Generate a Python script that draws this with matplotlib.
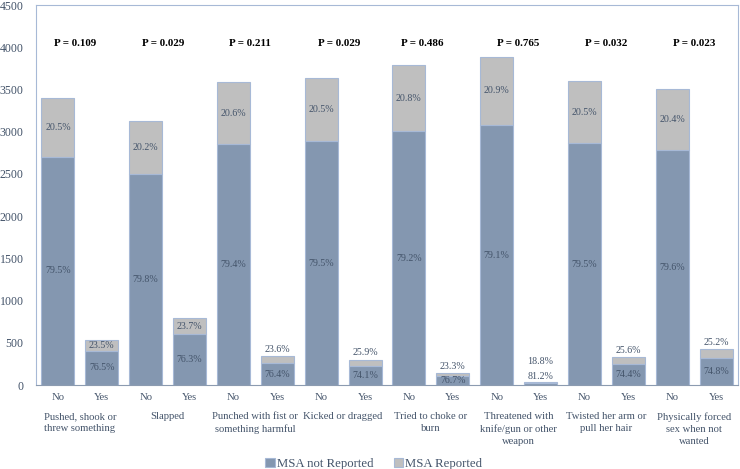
import matplotlib.pyplot as plt
import numpy as np

plt.rcParams['font.family'] = ['Liberation Serif', 'DejaVu Serif']

categories = ["Pushed, shook or\nthrew something", "Slapped",
              "Punched with fist or\nsomething harmful", "Kicked or dragged",
              "Tried to choke or\nburn", "Threatened with\nknife/gun or other\nweapon",
              "Twisted her arm or\npull her hair", "Physically forced\nsex when not\nwanted"]
p_values = ["P = 0.109", "P = 0.029", "P = 0.211", "P = 0.029",
            "P = 0.486", "P = 0.765", "P = 0.032", "P = 0.023"]
answers = ["No", "Yes"] * 8

# counts per bar (No, Yes for each category)
not_reported = [2703, 405, 2498, 603, 2850, 260, 2886, 222,
                3002, 107, 3077, 28, 2862, 246, 2786, 318]
reported = [697, 125, 632, 187, 740, 80, 744, 78,
            788, 33, 813, 7, 738, 84, 714, 107]
pct_not = ["79.5%", "76.5%", "79.8%", "76.3%", "79.4%", "76.4%", "79.5%", "74.1%",
           "79.2%", "76.7%", "79.1%", "81.2%", "79.5%", "74.4%", "79.6%", "74.8%"]
pct_rep = ["20.5%", "23.5%", "20.2%", "23.7%", "20.6%", "23.6%", "20.5%", "25.9%",
           "20.8%", "23.3%", "20.9%", "18.8%", "20.5%", "25.6%", "20.4%", "25.2%"]
# where the labels go on the small bars
rep_above = [0, 0, 0, 0, 0, 1, 0, 1, 0, 1, 0, 1, 0, 1, 0, 1]
not_above = [0, 0, 0, 0, 0, 0, 0, 0, 0, 0, 0, 1, 0, 0, 0, 0]
# small horizontal nudges of the P labels (in bar slots)
p_shift = [-0.11, -0.1, -0.12, -0.08, -0.2, -0.01, 0, 0]

blue = "#8497B0"
grey = "#BFBFBF"
edge = "#A7B9D6"
txt = "#44546A"
fs = 7.2

fig = plt.figure(figsize=(7.4, 4.69), dpi=100)
ax = fig.add_axes([36/740, 84/469, 702/740, 380/469])

x = np.arange(len(answers))
nr = np.array(not_reported)
rp = np.array(reported)
ax.bar(x, nr, 0.75, color=blue, edgecolor=edge, linewidth=0.8, label="MSA not Reported")
ax.bar(x, rp, 0.75, bottom=nr, color=grey, edgecolor=edge, linewidth=0.8, label="MSA Reported")

for i in range(len(x)):
    top = nr[i] + rp[i]
    if not_above[i]:
        ax.annotate(pct_not[i], (x[i], top), xytext=(0, 4), textcoords="offset points",
                    ha="center", va="center", fontsize=fs, color=txt)
        ax.annotate(pct_rep[i], (x[i], top), xytext=(0, 14.5), textcoords="offset points",
                    ha="center", va="center", fontsize=fs, color=txt)
        continue
    ax.text(x[i], nr[i] / 2, pct_not[i], ha="center", va="center", fontsize=fs, color=txt)
    if rep_above[i]:
        ax.annotate(pct_rep[i], (x[i], top), xytext=(0, 5), textcoords="offset points",
                    ha="center", va="center", fontsize=fs, color=txt)
    else:
        ax.text(x[i], nr[i] + rp[i] / 2, pct_rep[i], ha="center", va="center",
                fontsize=fs, color=txt)

for g in range(len(categories)):
    cx = 2 * g + 0.5
    ax.text(cx + p_shift[g], 4050, p_values[g], ha="center", va="center", fontsize=7.9,
            fontweight="bold", color="black")
    ax.text(cx, -0.072, categories[g], transform=ax.get_xaxis_transform(),
            ha="center", va="top", fontsize=7.7, color=txt, linespacing=1.42)

ax.set_xlim(-0.5, 15.5)
ax.set_ylim(0, 4500)
ax.set_yticks(range(0, 4501, 500))
ax.set_xticks(x)
ax.set_xticklabels(answers)
ax.tick_params(length=0, colors=txt)
ax.tick_params(axis="x", pad=6, labelsize=7.7)
ax.tick_params(axis="y", pad=9, labelsize=8.6)
for s in ax.spines.values():
    s.set_color(edge)
ax.spines["bottom"].set_color("#8C9BB0")

fig.legend(loc="center", bbox_to_anchor=(0.505, 5/469), ncol=2, frameon=False,
           fontsize=9.2, handlelength=0.75, handleheight=0.75, columnspacing=1.6,
           handletextpad=0.15, labelcolor=txt)

fig.savefig("out.png", dpi=100)
